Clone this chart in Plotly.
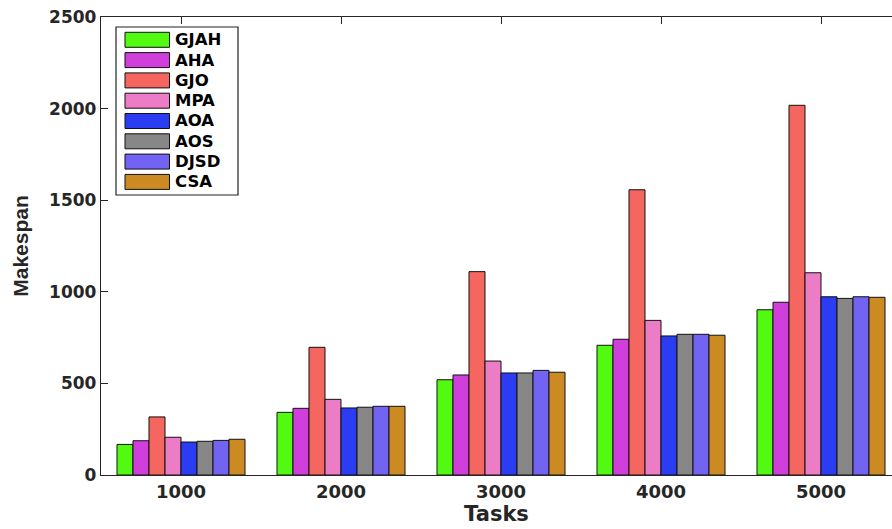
import plotly.graph_objects as go

# Makespan of each scheduling algorithm per task count
tasks = ["1000", "2000", "3000", "4000", "5000"]
algorithms = ["GJAH", "AHA", "GJO", "MPA", "AOA", "AOS", "DJSD", "CSA"]
colors = ["#52FA12", "#D03FDC", "#F4665F", "#EC7CC6",
          "#2A3DF2", "#878787", "#7363F2", "#CB8A22"]

gjah = [167, 342, 520, 708, 902]
aha = [187, 364, 546, 741, 943]
gjo = [317, 697, 1110, 1557, 2018]
mpa = [206, 413, 622, 844, 1104]
aoa = [180, 366, 557, 759, 973]
aos = [184, 370, 557, 768, 964]
djsd = [189, 375, 571, 768, 973]
csa = [195, 375, 561, 763, 970]
series = [gjah, aha, gjo, mpa, aoa, aos, djsd, csa]

W, H = 892, 529
ML, MT, MB = 101, 17, 54
plot_w = W - ML
plot_h = H - MT - MB
TEXT = "#262626"
FONT = "DejaVu Sans"

fig = go.Figure()
for name, vals, col in zip(algorithms, series, colors):
    fig.add_trace(go.Bar(
        name=name, x=tasks, y=vals,
        marker=dict(color=col, line=dict(color="#111111", width=1)),
        showlegend=False,
    ))


def px_x(x):
    return (x - ML) / plot_w


def px_y(y):
    return (H - MB - y) / plot_h


# Boxed legend with wide colour swatches
shapes = [dict(type="rect", xref="paper", yref="paper",
               x0=px_x(116), x1=px_x(238), y0=px_y(195), y1=px_y(27),
               line=dict(color="#222222", width=1.2), fillcolor="white",
               layer="above")]
annotations = []
for i, (name, col) in enumerate(zip(algorithms, colors)):
    top = 32.3 + i * 20.3
    shapes.append(dict(type="rect", xref="paper", yref="paper",
                       x0=px_x(125), x1=px_x(169.5),
                       y0=px_y(top + 15), y1=px_y(top),
                       line=dict(color="#111111", width=1),
                       fillcolor=col, layer="above"))
    annotations.append(dict(xref="paper", yref="paper",
                            x=px_x(173), y=px_y(top + 7.5),
                            xanchor="left", yanchor="middle",
                            text=name, showarrow=False,
                            font=dict(family=FONT, size=16.5, color="black",
                                      weight="bold")))

axis_common = dict(
    showline=True, linecolor=TEXT, linewidth=1.3,
    ticks="inside", tickcolor=TEXT, tickwidth=1.3, ticklen=7,
    showgrid=False, zeroline=False,
)

fig.update_layout(
    width=W, height=H,
    margin=dict(l=ML, r=0, t=MT, b=MB),
    paper_bgcolor="white", plot_bgcolor="white",
    barmode="group", bargap=0.2, bargroupgap=0,
    shapes=shapes, annotations=annotations,
    xaxis=dict(
        type="category", range=[-0.5, -0.5 + plot_w / 160],
        layer="below traces", mirror="ticks",
        tickfont=dict(family=FONT, size=18, color=TEXT, weight="bold"),
        title=dict(text="Tasks", standoff=1,
                   font=dict(family=FONT, size=21, color=TEXT, weight="bold")),
        **axis_common,
    ),
    yaxis=dict(
        range=[0, 2500], tickvals=[0, 500, 1000, 1500, 2000, 2500],
        mirror=False,
        tickfont=dict(family=FONT, size=17, color=TEXT, weight="bold"),
        title=dict(text="Makespan", standoff=14,
                   font=dict(family="Liberation Sans", size=21, color=TEXT,
                             weight="bold")),
        **axis_common,
    ),
)

fig.write_html("out.html")
